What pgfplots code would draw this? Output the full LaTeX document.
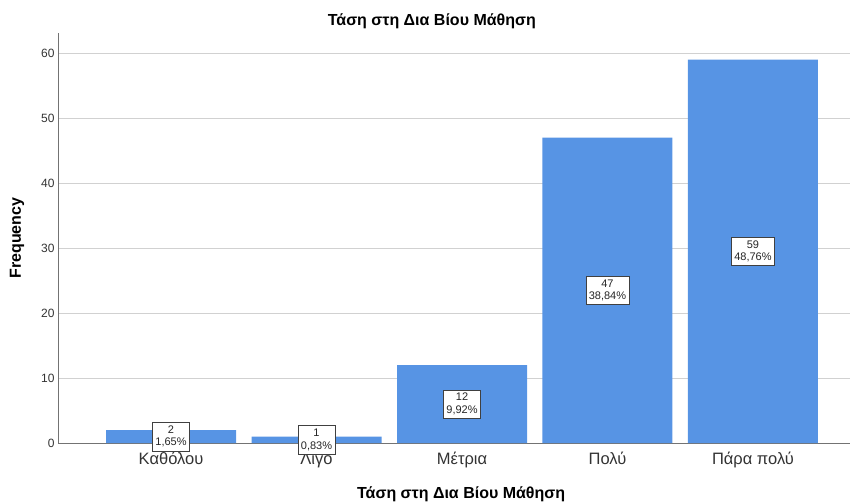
\documentclass[border=0pt]{standalone}
\usepackage{pgfplots}
\pgfplotsset{compat=1.18}
\usepackage{pgfplotstable}
\usepackage{fontspec}
\setmainfont{Liberation Sans}
\definecolor{barblue}{RGB}{87,148,228}
\pgfplotstableread{
x y h pct
0 2 1 1,65
1 1 0.5 0,83
2 12 6 9,92
3 47 23.5 38,84
4 59 29.5 48,76
}\datatable
\begin{document}
\begin{tikzpicture}
\useasboundingbox (0,0) rectangle (853pt,501pt);
\begin{axis}[
  at={(58pt,58pt)}, anchor=south west,
  scale only axis, width=792pt, height=410pt,
  xmin=-0.777, xmax=4.667, ymin=0, ymax=63.1,
  axis lines*=left,
  axis line style={black!55, line width=0.8pt},
  clip=false,
  xtick={0,1,2,3,4},
  xticklabels={Καθόλου,Λίγο,Μέτρια,Πολύ,Πάρα πολύ},
  ytick={0,10,20,30,40,50,60},
  ymajorgrids,
  grid style={black!18, line width=0.8pt},
  major tick length=0pt,
  /pgf/number format/assume math mode=true,
  x tick label style={font=\fontsize{16.5}{18}\selectfont, text=black!80, yshift=-6pt},
  y tick label style={font=\fontsize{12}{14}\selectfont, text=black!80},
  title={Τάση στη Δια Βίου Μάθηση},
  title style={font=\bfseries\fontsize{16}{18}\selectfont, at={(axis description cs:0.472,1.032)}, anchor=center, yshift=-7pt},
  xlabel={Τάση στη Δια Βίου Μάθηση},
  xlabel style={font=\bfseries\fontsize{16}{18}\selectfont, at={(axis description cs:0.509,-0.1195)}, anchor=center, yshift=-2pt},
  ylabel={Frequency},
  ylabel style={font=\bfseries\fontsize{16}{18}\selectfont, at={(axis description cs:-0.0518,0.5)}, anchor=center},
]
\addplot[ybar, bar width=130pt, fill=barblue, draw=none] table[x=x,y=y]{\datatable};
\addplot[draw=none, mark=none,
  point meta=explicit symbolic,
  visualization depends on={\thisrow{y}\as\cnt},
  nodes near coords={\pgfmathprintnumber[fixed,precision=0]{\cnt}\\\pgfplotspointmeta\%},
  nodes near coords style={anchor=center, align=center, draw=black!75, fill=white,
    inner xsep=3pt, inner ysep=3.5pt, font=\fontsize{11}{12.5}\selectfont, text=black!85}
] table[x=x,y=h,meta=pct]{\datatable};
\end{axis}
\end{tikzpicture}
\end{document}
